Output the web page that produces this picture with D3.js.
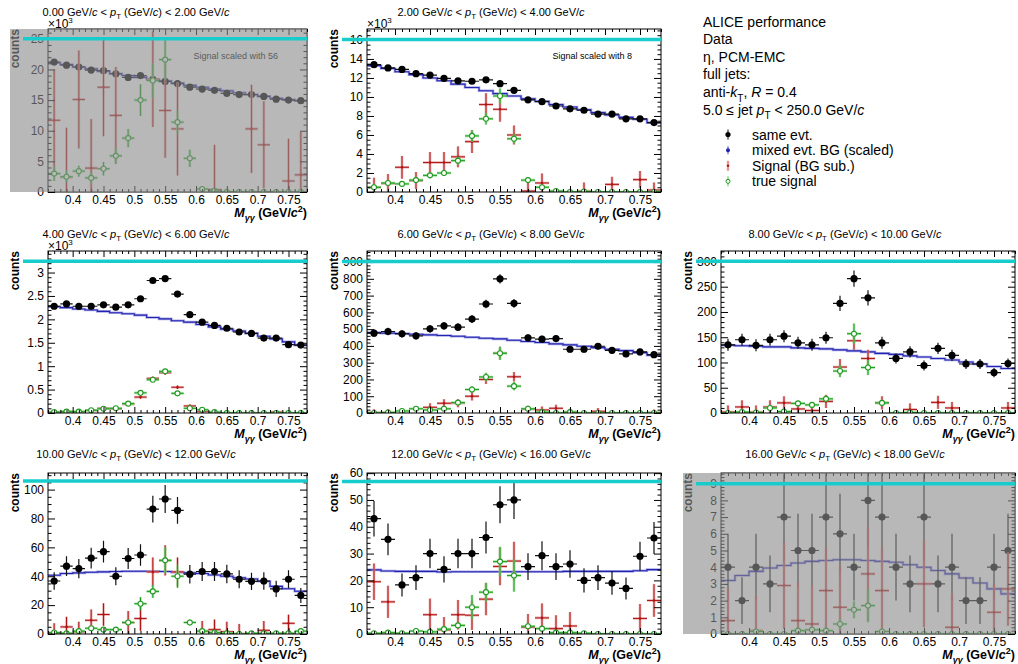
<!DOCTYPE html>
<html><head><meta charset="utf-8">
<script src="https://cdn.jsdelivr.net/npm/d3@7"></script>
<style>
html,body{margin:0;padding:0;background:#fff;}
svg{display:block;font-family:'Liberation Sans',Arial,Helvetica,sans-serif;}
</style></head><body>
<svg id="c" width="1018" height="664"></svg>
<script>
// ---------------- DATA ----------------
const massBins = [0.37,0.39,0.41,0.43,0.45,0.47,0.49,0.51,0.53,0.55,0.57,0.59,0.61,0.63,0.65,0.67,0.69,0.71,0.73,0.75,0.77];
const massRange = [0.36, 0.78];
const xMajorTicks = [0.4,0.45,0.5,0.55,0.6,0.65,0.7,0.75];

const ptLow  = ["0.00","2.00","4.00","6.00","8.00","10.00","12.00","16.00"];
const ptHigh = ["2.00","4.00","6.00","8.00","10.00","12.00","16.00","18.00"];
const signalScale = ["56","8",null,null,null,null,null,null];
const yExponent = [3,3,3,0,0,0,0,0];
const yMax = [26.6,17.15,3.46,966,320.7,111.5,60.05,9.64];
const yTickStep = [5,2,0.5,100,50,20,10,1];
const yMinorDiv = [5,4,5,5,5,4,5,5];
const cyanLevel = [25.0,16.05,3.24,903,300.5,106,56.9,9.0];
const excluded = [true,false,false,false,false,false,false,true];

const sameEvt = [
 [21.2,20.7,20.4,19.9,19.8,19.3,18.7,19.0,18.4,18.05,17.7,17.1,16.8,16.6,16.1,15.9,15.9,15.6,15.15,15.0,14.9],
 [13.4,13.05,12.9,12.45,12.3,11.95,11.7,11.65,11.8,11.4,10.7,9.7,9.5,9.05,8.75,8.6,8.2,8.2,7.7,7.7,7.3],
 [2.28,2.33,2.28,2.28,2.31,2.26,2.31,2.44,2.83,2.87,2.54,2.10,1.94,1.87,1.81,1.73,1.70,1.60,1.60,1.46,1.45],
 [476,486,472,460,502,520,512,560,650,800,654,448,440,444,380,380,398,374,352,364,348],
 [135,145,134,145,152,139,135,149,217,266,228,139,108,121,94,128,114,97,97,80,98],
 [36.7,47,45.3,52.5,57,40,52.3,54.7,86.5,93.5,85.6,41.4,43.3,43.3,41.6,37.9,36.5,36.7,31.2,37.9,26.7],
 [43,35.3,18.3,21,30,24.1,30,30,36,48.2,50,25.1,29.2,25.1,26.1,20,21,19,17,29,35.8],
 [4,2,4,3,7,5,5,7,6,4,8,7,4,3,7,3,4,2,2,4,5]
];
const sameEvtErr = [
 [0.15,0.14,0.14,0.14,0.14,0.14,0.14,0.14,0.14,0.13,0.13,0.13,0.13,0.13,0.13,0.13,0.13,0.12,0.12,0.12,0.12],
 [0.12,0.11,0.11,0.11,0.11,0.11,0.11,0.11,0.11,0.11,0.10,0.10,0.10,0.10,0.09,0.09,0.09,0.09,0.09,0.09,0.09],
 [0.048,0.048,0.048,0.048,0.048,0.048,0.048,0.049,0.053,0.054,0.050,0.046,0.044,0.043,0.043,0.042,0.041,0.040,0.040,0.038,0.038],
 [22,22,22,21,22,23,23,24,25,28,26,21,21,21,19,19,20,19,19,19,19],
 [12,12,12,12,12,12,12,12,15,16,15,12,10,11,10,11,11,10,10,9,10],
 [6.1,6.9,6.7,7.2,7.5,6.3,7.2,7.4,9.3,9.7,9.3,6.4,6.6,6.6,6.4,6.2,6.0,6.1,5.6,6.2,5.2],
 [6.6,5.9,4.3,4.6,5.5,4.9,5.5,5.5,6.0,6.9,7.1,5.0,5.4,5.0,5.1,4.5,4.6,4.4,4.1,5.4,6.0],
 [2.0,1.4,2.0,1.7,2.6,2.2,2.2,2.6,2.4,2.0,2.8,2.6,2.0,1.7,2.6,1.7,2.0,1.4,1.4,2.0,2.2]
];
const mixedBG = [
 [21.1,20.8,20.4,20.1,19.7,19.3,19.0,18.7,18.4,18.1,17.8,17.4,17.1,16.8,16.5,16.2,15.9,15.6,15.3,15.1,14.9],
 [13.3,13.0,12.65,12.35,12.0,11.7,11.35,11.0,10.65,10.35,10.1,9.8,9.55,9.2,8.95,8.65,8.35,8.1,7.85,7.65,7.3],
 [2.27,2.25,2.22,2.20,2.17,2.14,2.12,2.09,2.04,2.01,1.97,1.94,1.89,1.84,1.79,1.75,1.70,1.64,1.58,1.52,1.45],
 [480,476,474,470,466,462,458,452,446,442,434,426,420,412,406,398,390,380,372,360,344],
 [134,133,132,131,131,129,128,127,125,123,121,118,116,113,111,108,105,101,97,92,88],
 [40.7,41.9,42.3,42.8,43.0,43.3,43.5,43.5,43.5,43.3,42.8,42.3,41.9,40.9,40.0,39.0,38.1,36.5,33.0,31.3,29.6],
 [23.9,23.5,23.35,23.35,23.35,23.1,23.2,23.2,23.2,23.2,23.2,23.2,23.2,23.2,23.35,23.35,23.35,23.35,23.35,23.6,24.0],
 [3.2,3.5,3.75,3.95,4.1,4.25,4.35,4.4,4.45,4.45,4.4,4.35,4.3,4.15,4.0,3.8,3.6,3.35,3.05,2.7,2.4]
];
const signalBGsub = [
 [11.7,2.4,15.1,3.9,17.1,12.5,null,null,18.4,13.3,10.3,null,null,0.4,null,null,10.3,7.7,null,1.8,2.8],
 [0.5,0.9,2.6,1.2,3.1,3.1,3.7,5.3,9.2,8.7,6.0,0.1,0.95,null,null,0.1,null,0.8,null,1.3,0.2],
 [0.01,0.03,0.02,0.06,0.10,0.09,0.19,0.34,0.74,0.86,0.55,0.15,0.04,0.01,null,null,null,null,0.02,null,null],
 [2,3,null,null,34,58,58,100,200,358,216,22,18,28,5,null,10,null,null,null,2],
 [2,12,2,12,20,8,5,23,91,143,108,20,null,7,null,21,10,null,null,null,10],
 [0.5,4.9,1.5,9.5,13.5,null,7.9,10.7,43,51,43,null,2,3,1.5,0,null,2.5,null,7.4,null],
 [19.5,12,null,null,7.2,1.5,7.2,7,13,25.2,27.2,2.5,6,2,3,null,null,null,null,5.8,12.5],
 [0.8,null,0.2,null,2.9,0.8,0.6,2.6,1.6,null,3.6,2.6,null,null,3.0,null,0.4,null,null,1.3,2.7]
];
const signalBGsubErr = [
 [8.3,8.1,8.0,8.0,8.0,7.9,0,0,7.8,7.7,7.6,0,0,7.3,0,0,7.2,7.1,0,6.9,7.0],
 [1.0,1.0,1.2,0.9,1.1,1.1,1.1,1.2,1.2,1.3,1.0,1.0,1.0,0,0,0.9,0,0.8,0,0.9,0.8],
 [0.03,0.03,0.03,0.03,0.03,0.03,0.03,0.035,0.04,0.045,0.04,0.035,0.03,0.03,0,0,0,0,0.03,0,0],
 [20,20,0,0,24,24,24,25,27,33,28,21,21,21,20,0,20,0,0,0,19],
 [13,13,13,13,13,13,13,13,16,18,17,13,0,12,0,13,12,0,0,0,12],
 [7,7,7,7.5,7.8,0,8,8.5,10,10.5,10,0,7,7,7,7,0,6.5,0,6,0],
 [6.8,6,0,0,6,4.8,5.5,5.5,6,7,7.2,5,5.4,5,5.2,0,0,0,0,5.4,6.1],
 [2.0,0,2.1,0,2.6,2.3,2.3,2.6,2.5,0,2.8,2.6,0,0,2.6,0,2.0,0,0,1.7,2.2]
];
const trueSignal = [
 [3.0,2.5,3.4,2.3,3.8,5.9,8.8,15.0,18.2,21.6,11.4,5.5,0.5,0.2,0,0,0,0,0,0,0],
 [0.5,0.95,0.85,1.25,1.75,2.0,3.3,5.9,7.7,10.1,5.6,1.25,0.5,0.1,0,0.05,0,0,0,0,0],
 [0.02,0.03,0.03,0.06,0.09,0.1,0.2,0.43,0.71,0.89,0.42,0.1,0.07,0.02,0,0,0,0,0,0,0],
 [0,3,12,25,18,25,62,140,215,356,160,25,5,0,5,0,0,0,0,0,0],
 [0,2,1,10,3,19,16,28,83,157,90,20,0,1,0,0,0,0,0,0,0],
 [1,0.5,2,4,3,3,8,21,29.5,51,40,8,2,1,0.5,0,0.5,0.5,0.5,0.5,2],
 [0.3,0.5,0.3,1.1,0.8,1.8,3.2,10,15.6,27,21.8,2.9,2,0.5,0.5,0.3,0,0,0,0,0],
 [0,0,0.15,0,0,0.2,0.25,0.2,0.6,1.45,1.7,0.15,0,0,0,0,0,0,0,0,0]
];
const trueSignalErr = [
 [1.2,1.0,0.9,0.9,1.1,1.3,1.5,2.6,2.8,3.2,2.0,1.4,0.3,0.2,0,0,0,0,0,0,0],
 [0.3,0.3,0.2,0.3,0.3,0.3,0.4,0.6,0.6,0.8,0.5,0.3,0.2,0.1,0,0,0,0,0,0,0],
 [0.01,0.01,0.01,0.01,0.015,0.015,0.02,0.03,0.04,0.05,0.03,0.02,0.015,0.01,0,0,0,0,0,0,0],
 [0,3,5,7,6,7,12,20,25,40,25,8,3,0,3,0,0,0,0,0,0],
 [0,1.5,1,4,2,5,5,6,12,20,15,6,0,1,0,0,0,0,0,0,0],
 [0.5,0.5,1,1.2,1,1,2,4.5,4.5,9,8,2,1,0.5,0.3,0,0.3,0.3,0.3,0.3,1],
 [0.2,0.3,0.2,0.5,0.4,0.8,1,4.5,3.5,5.5,6,1,0.8,0.3,0.3,0.2,0,0,0,0,0],
 [0,0,0.1,0,0,0.1,0.15,0.1,0.3,0.5,1.0,0.1,0,0,0,0,0,0,0,0,0]
];

const headerLines = [
 [["ALICE performance"]],
 [["Data"]],
 [["η, PCM-EMC"]],
 [["full jets:"]],
 [["anti-"],["k","i"],["T","sub"],[", "],["R","i"],[" = 0.4"]],
 [["5.0 ≤ jet "],["p","i"],["T","sub"],[" < 250.0 GeV/"],["c","i"]]
];
const legendLabels = ["same evt.","mixed evt. BG (scaled)","Signal (BG sub.)","true signal"];

// ---------------- LAYOUT / STYLE ----------------
const svg = d3.select("#c");
const colX = [[48,307],[367,661],[721,1015]];
const rowY = [[29,192],[251,413],[473,634]];
const rowTitleY = [15.5, 237.5, 457.5];
const titleCX = [136,491,845];
const slots = [[0,0],[0,1],[1,0],[1,1],[1,2],[2,0],[2,1],[2,2]];
const hw = (massBins[1]-massBins[0])/2;
const C = {blue:"#2323b2", blueLight:"#8585dc", red:"#b01515", pink:"#e59a9a",
           green:"#1f9a1f", greenLight:"#8fdc8f", cyan:"#18cccc"};

function rich(textSel, segs, size){
  let shift = 0;
  segs.forEach(([t, st]) => {
    const ts = textSel.append("tspan").text(t);
    let target = 0, fs = size;
    if (st && st.indexOf("sub")>=0){ target = size*0.35; fs = size*0.72; }
    if (st && st.indexOf("sup")>=0){ target = -size*0.42; fs = size*0.72; }
    if (target !== shift){ ts.attr("dy", (target-shift).toFixed(2)); shift = target; }
    ts.attr("font-size", fs);
    if (st && (st==="i" || st.indexOf("isub")>=0)) ts.attr("font-style","italic");
  });
}

function segPath(pts, x, y, withH, withV){
  let p = "";
  pts.forEach(d => {
    if (withH) p += `M${x(d.m-hw)},${y(d.v)}H${x(d.m+hw)}`;
    if (withV && d.e>0) p += `M${x(d.m)},${y(d.v-d.e)}V${y(d.v+d.e)}`;
  });
  return p;
}

slots.forEach(([r,c], i) => {
  const [L,R] = colX[c], [T,B] = rowY[r];
  const x = d3.scaleLinear().domain(massRange).range([L,R]);
  const y = d3.scaleLinear().domain([0,yMax[i]]).range([B,T]);
  const g = svg.append("g");
  const cid = "clip"+i;
  svg.append("clipPath").attr("id",cid).append("rect")
     .attr("x",L).attr("y",T).attr("width",R-L).attr("height",B-T);
  const dg = g.append("g").attr("clip-path",`url(#${cid})`);

  const mk = (vals, errs) => massBins.map((m,j)=>({m, v:vals[j], e:errs?errs[j]:0})).filter(d=>d.v!==null);

  // mixed event BG histogram (step)
  const stepPts = massBins.map((m,j)=>[m-hw, mixedBG[i][j]]);
  stepPts.push([massBins[massBins.length-1]+hw, mixedBG[i][massBins.length-1]]);
  const stepLine = d3.line().x(d=>x(d[0])).y(d=>y(d[1])).curve(d3.curveStepAfter);
  dg.append("path").attr("d",stepLine(stepPts)).attr("fill","none")
    .attr("stroke",C.blueLight).attr("stroke-width",2.6).attr("opacity",0.7);
  dg.append("path").attr("d",stepLine(stepPts)).attr("fill","none")
    .attr("stroke",C.blue).attr("stroke-width",1.1);

  // same event
  const sp = mk(sameEvt[i], sameEvtErr[i]);
  dg.append("path").attr("d",segPath(sp,x,y,true,true)).attr("fill","none")
    .attr("stroke","#111").attr("stroke-width",1.2);
  dg.selectAll(null).data(sp).join("circle")
    .attr("cx",d=>x(d.m)).attr("cy",d=>y(d.v)).attr("r",3.6).attr("fill","#000");

  // signal (BG sub.)
  const rp = mk(signalBGsub[i], signalBGsubErr[i]);
  dg.append("path").attr("d",segPath(rp,x,y,true,true)).attr("fill","none")
    .attr("stroke",C.pink).attr("stroke-width",2.6).attr("opacity",0.8);
  dg.append("path").attr("d",segPath(rp,x,y,true,true)).attr("fill","none")
    .attr("stroke",C.red).attr("stroke-width",1);
  dg.selectAll(null).data(rp).join("circle")
    .attr("cx",d=>x(d.m)).attr("cy",d=>y(d.v)).attr("r",1.3).attr("fill",C.red);

  // true signal
  const tp = mk(trueSignal[i], trueSignalErr[i]);
  dg.append("path").attr("d",segPath(tp,x,y,true,true)).attr("fill","none")
    .attr("stroke",C.greenLight).attr("stroke-width",2.6).attr("opacity",0.8);
  dg.append("path").attr("d",segPath(tp,x,y,true,true)).attr("fill","none")
    .attr("stroke",C.green).attr("stroke-width",1);
  dg.selectAll(null).data(tp).join("circle")
    .attr("cx",d=>x(d.m)).attr("cy",d=>y(d.v)).attr("r",2.5)
    .attr("fill","#fff").attr("stroke",C.green).attr("stroke-width",1.1);

  // frame
  g.append("rect").attr("x",L).attr("y",T).attr("width",R-L).attr("height",B-T)
   .attr("fill","none").attr("stroke","#000").attr("stroke-width",1);

  // axes
  const xMinor = d3.range(36,79).map(v=>v/100).filter(v=>!xMajorTicks.some(t=>Math.abs(t-v)<1e-6));
  const yMajor = d3.range(0, yMax[i]+1e-9, yTickStep[i]).map(v=>Math.round(v*1e6)/1e6);
  const ms = yTickStep[i]/yMinorDiv[i];
  const yMinor = d3.range(0, yMax[i]+1e-9, ms).map(v=>Math.round(v*1e6)/1e6)
                   .filter(v=>!yMajor.some(t=>Math.abs(t-v)<1e-9));
  const ax = (gen, tr) => {
    const a = g.append("g").attr("transform",tr).call(gen);
    a.select(".domain").remove();
    a.selectAll("line").attr("stroke","#000").attr("stroke-width",1);
    a.selectAll("text").attr("font-size",12).attr("fill","#000")
     .attr("font-family","'Liberation Sans',Arial,Helvetica,sans-serif");
    return a;
  };
  ax(d3.axisBottom(x).tickValues(xMajorTicks).tickSize(-6).tickPadding(3.5).tickFormat(d3.format("~g")), `translate(0,${B})`);
  ax(d3.axisBottom(x).tickValues(xMinor).tickSize(-3).tickFormat(""), `translate(0,${B})`);
  ax(d3.axisTop(x).tickValues(xMajorTicks).tickSize(-6).tickFormat(""), `translate(0,${T})`);
  ax(d3.axisTop(x).tickValues(xMinor).tickSize(-3).tickFormat(""), `translate(0,${T})`);
  ax(d3.axisLeft(y).tickValues(yMajor).tickSize(-7).tickPadding(4).tickFormat(d3.format("~g")), `translate(${L},0)`);
  ax(d3.axisLeft(y).tickValues(yMinor).tickSize(-3.5).tickFormat(""), `translate(${L},0)`);
  ax(d3.axisRight(y).tickValues(yMajor).tickSize(-7).tickFormat(""), `translate(${R},0)`);
  ax(d3.axisRight(y).tickValues(yMinor).tickSize(-3.5).tickFormat(""), `translate(${R},0)`);

  // axis titles
  const xt = g.append("text").attr("x",R).attr("y",B+25).attr("text-anchor","end")
    .attr("font-weight","bold").attr("font-size",12.5);
  rich(xt, [["M","i"],["γγ","isub"],[" (GeV/"],["c","i"],["2","sup"],[")"]], 12.5);
  g.append("text").attr("transform",`translate(${L-29},${T}) rotate(-90)`)
    .attr("text-anchor","end").attr("font-weight","bold").attr("font-size",12).text("counts");
  if (yExponent[i]) {
    const et = g.append("text").attr("x",L).attr("y",T-1).attr("font-size",12);
    et.append("tspan").text("×10");
    et.append("tspan").attr("font-size",8).attr("dy",-5).text(yExponent[i]);
  }
  // panel title
  const tt = g.append("text").attr("x",titleCX[c]).attr("y",rowTitleY[r]).attr("text-anchor","middle").attr("font-size",11);
  rich(tt, [[ptLow[i]+" GeV/"],["c","i"],[" < "],["p","i"],["T","sub"],[" (GeV/"],["c","i"],[") < "+ptHigh[i]+" GeV/"],["c","i"]], 11);

  if (signalScale[i]) {
    g.append("text").attr("x",R-29).attr("y",T+30).attr("text-anchor","end")
     .attr("font-size",9).text("Signal scaled with "+signalScale[i]);
  }

  if (excluded[i]) {
    g.append("rect").attr("x",L-38).attr("y",T).attr("width",R-L+38).attr("height",B-T)
     .attr("fill","rgb(140,140,140)").attr("opacity",0.62);
  }
  // cyan marker line
  g.append("line").attr("x1",L-25).attr("x2",R).attr("y1",y(cyanLevel[i])).attr("y2",y(cyanLevel[i]))
   .attr("stroke",C.cyan).attr("stroke-width",3.5);
});

// ---------------- LEGEND ----------------
const lg = svg.append("g");
const hdrBase = [26.5,44,61.5,79,97,114.5];
headerLines.forEach((segs,k) => {
  const t = lg.append("text").attr("x",703).attr("y",hdrBase[k]).attr("font-size",14);
  rich(t, segs, 14);
});
const entBase = [139.5,155.3,170.8,186.3];
legendLabels.forEach((lab,k) => {
  const yb = entBase[k], ym = yb-5, mx = 728;
  if (k===0){
    lg.append("line").attr("x1",mx).attr("x2",mx).attr("y1",ym-5).attr("y2",ym+5).attr("stroke","#000");
    lg.append("circle").attr("cx",mx).attr("cy",ym).attr("r",2.6).attr("fill","#000");
  } else if (k===1){
    lg.append("line").attr("x1",mx).attr("x2",mx).attr("y1",ym-4).attr("y2",ym+4).attr("stroke",C.blueLight).attr("stroke-width",1.5);
    lg.append("circle").attr("cx",mx).attr("cy",ym).attr("r",2).attr("fill",C.blue);
  } else if (k===2){
    lg.append("line").attr("x1",mx).attr("x2",mx).attr("y1",ym-5).attr("y2",ym+5).attr("stroke",C.pink).attr("stroke-width",2.4);
    lg.append("circle").attr("cx",mx).attr("cy",ym).attr("r",1.2).attr("fill",C.red);
  } else {
    lg.append("line").attr("x1",mx).attr("x2",mx).attr("y1",ym-5).attr("y2",ym+5).attr("stroke",C.greenLight).attr("stroke-width",1.6);
    lg.append("circle").attr("cx",mx).attr("cy",ym).attr("r",2).attr("fill","#fff").attr("stroke",C.green);
  }
  lg.append("text").attr("x",752).attr("y",yb).attr("font-size",14).text(lab);
});
</script>
</body></html>
